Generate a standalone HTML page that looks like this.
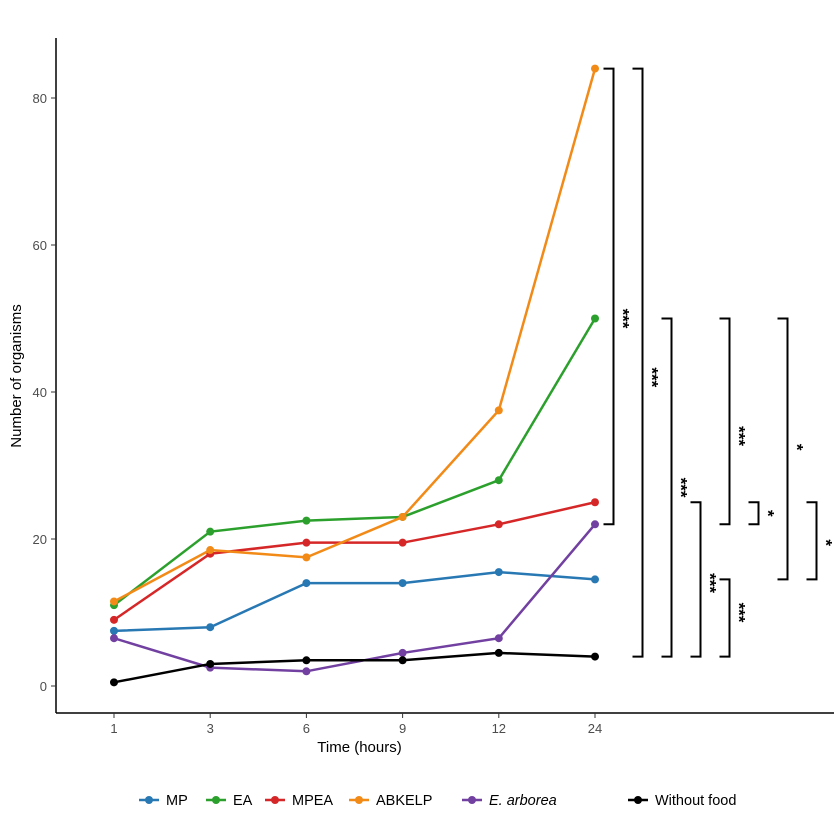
<!DOCTYPE html>
<html><head><meta charset="utf-8"><style>
body{margin:0;background:#fff}
svg{display:block;font-family:"Liberation Sans",sans-serif}
</style></head><body>
<svg id="c" width="834" height="834"></svg>
<script>
const categories=["1","3","6","9","12","24"];
const yTicks=[0,20,40,60,80];
const seriesNames=["MP","EA","MPEA","ABKELP","E. arborea","Without food"];
const seriesColors=["#2878b4","#2ca02c","#d62728","#f28a17","#7140a0","#000000"];
const mp=[7.5,8,14,14,15.5,14.5];
const ea=[11,21,22.5,23,28,50];
const mpea=[9,18,19.5,19.5,22,25];
const abkelp=[11.5,18.5,17.5,23,37.5,84];
const earb=[6.5,2.5,2,4.5,6.5,22];
const nofood=[0.5,3,3.5,3.5,4.5,4];
const seriesValues=[mp,ea,mpea,abkelp,earb,nofood];
// brackets: top value, bottom value, column, label
const brTop=[84,84,50,25,50,14.5,25,50,25];
const brBot=[22,4,4,4,22,4,22,14.5,14.5];
const brCol=[0,1,2,3,4,4,5,6,7];
const brLab=["***","***","***","***","***","***","*","*","*"];
const brLabVal=[50,42,27,14,34,10,23.5,32.5,19.5];

const NS="http://www.w3.org/2000/svg";
const svg=document.getElementById('c');
function el(t,a,p){const e=document.createElementNS(NS,t);for(const k in a)e.setAttribute(k,a[k]);(p||svg).appendChild(e);return e;}
const x=i=>114+i*96.2;
const y=v=>686-v*7.35;

let e=el('line',{x1:56,y1:38,x2:56,y2:713,stroke:'#000','stroke-width':1.5});

e=el('line',{x1:56,y1:713,x2:834,y2:713,stroke:'#000','stroke-width':1.5});

yTicks.forEach(v=>{
 el('line',{x1:51,x2:56,y1:y(v),y2:y(v),stroke:'#333'});
 const t=el('text',{x:47,y:y(v)+5,'text-anchor':'end','font-size':13,fill:'#4d4d4d'});t.textContent=v;
 
});
categories.forEach((c,i)=>{
 el('line',{x1:x(i),x2:x(i),y1:713,y2:718,stroke:'#333'});
 const t=el('text',{x:x(i),y:733,'text-anchor':'middle','font-size':13,fill:'#4d4d4d'});t.textContent=c;
 
});
let t=el('text',{x:x(2.5)+5,y:752,'text-anchor':'middle','font-size':15});t.textContent='Time (hours)';

t=el('text',{x:21,y:376,'text-anchor':'middle','font-size':15,transform:'rotate(-90 21 376)'});t.textContent='Number of organisms';


seriesValues.forEach((vals,s)=>{
 const g=el('g',{});
 
 
 el('polyline',{points:vals.map((v,i)=>x(i)+','+y(v)).join(' '),fill:'none',stroke:seriesColors[s],'stroke-width':2.5},g);
 vals.forEach((v,i)=>{const p=el('circle',{cx:x(i),cy:y(v),r:4,fill:seriesColors[s]},g);
  });
});

brTop.forEach((tv,i)=>{
 const bx=613.5+brCol[i]*29;
 const bb=brBot[i];
 const g=el('g',{});
 
 el('polyline',{points:`${bx-10},${y(tv)} ${bx},${y(tv)} ${bx},${y(bb)} ${bx-10},${y(bb)}`,fill:'none',stroke:'#000','stroke-width':2},g);
 const ly=y(brLabVal[i]);
 const tx=el('text',{x:bx+4,y:ly,'text-anchor':'middle','font-size':17,'font-weight':'bold',transform:`rotate(90 ${bx+4} ${ly})`},g);
 tx.textContent=brLab[i];
});

const lg=el('g',{});
const lx=[139,206,265,349,462,628];
seriesNames.forEach((n,s)=>{
 const g=el('g',{},lg);
 
 el('line',{x1:lx[s],x2:lx[s]+20,y1:800,y2:800,stroke:seriesColors[s],'stroke-width':2.5},g);
 el('circle',{cx:lx[s]+10,cy:800,r:4,fill:seriesColors[s]},g);
 const tt=el('text',{x:lx[s]+27,y:805,'font-size':14.5},g);tt.textContent=n;
 if(s==4)tt.setAttribute('font-style','italic');
});
</script>
</body></html>
